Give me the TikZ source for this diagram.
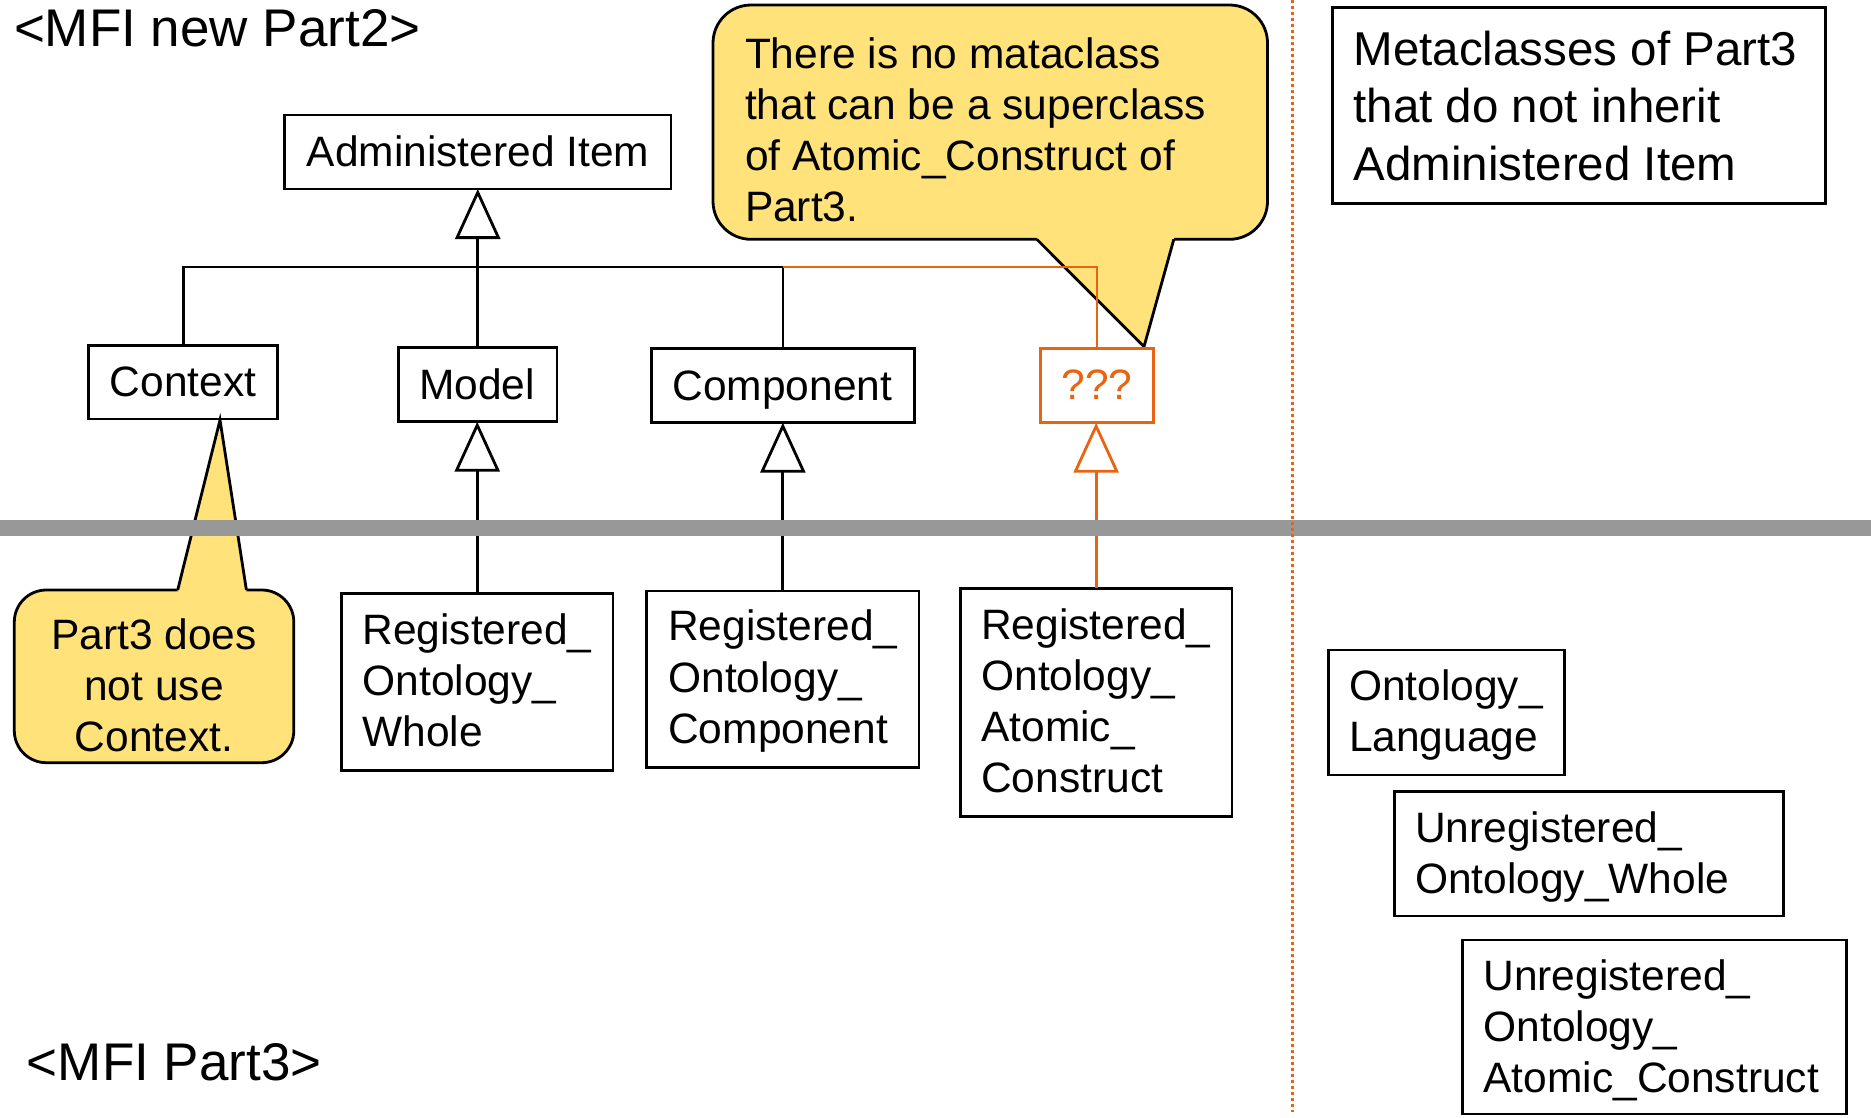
\documentclass[tikz,border=0pt]{standalone}
\usepackage{fontspec}
\setmainfont{Liberation Sans}
\usetikzlibrary{arrows.meta}
\definecolor{orng}{RGB}{232,100,16}
\definecolor{yell}{RGB}{255,227,122}
\definecolor{bandgray}{RGB}{152,152,152}
\begin{document}
\begin{tikzpicture}[x=1pt,y=-1pt,
  box/.style={draw=black, line width=2.9pt, inner sep=0pt, outer sep=0pt, anchor=north west},
  obox/.style={box, draw=orng},
  lbl/.style={inner sep=0pt, outer sep=0pt, anchor=base west, align=left, font=\fontsize{42.5}{51.2}\selectfont},
  clbl/.style={lbl, anchor=base, align=center},
  title/.style={inner sep=0pt, outer sep=0pt, anchor=base west, font=\fontsize{53}{60}\selectfont},
  conn/.style={line width=2.8pt},
  oconn/.style={conn, draw=orng},
  inh/.style={conn, -{Triangle[open, length=50pt, width=45pt]}},
  oinh/.style={inh, draw=orng},
  callout/.style={fill=yell, draw=black, line width=2.8pt},
]
\useasboundingbox (0,0) rectangle (1871,1117);
\fill[white] (0,0) rectangle (1871,1117);

% titles
\node[title] (t1) at (14,46.7) {<MFI new Part2>};
\node[title] (t2) at (27,1080.7) {<MFI Part3>};

% callout (top)  -- multi-line labels are placed by the baseline of their last line
\draw[callout, rounded corners=38pt] (713,5) rectangle (1267.5,239.3);
\fill[yell] (1036.8,235) -- (1036.8,239.3) -- (1144,346.7) -- (1173.8,239.3) -- (1173.8,235) -- cycle;
\draw[line width=2.8pt] (1036.8,239.3) -- (1144,346.7) -- (1173.8,239.3);
\node[lbl] (c1t) at (745,221.7) {There is no mataclass\\that can be a superclass\\of Atomic\_Construct of\\Part3.};

% callout (bottom left)
\draw[callout, rounded corners=32pt] (14.3,590) rectangle (293.8,762.7);
\fill[yell] (177.7,594) -- (177.7,590) -- (220,420) -- (246.4,590) -- (246.4,594) -- cycle;
\draw[line width=2.8pt] (177.7,590) -- (220,420) -- (246.4,590);
\node[clbl] (c2t) at (154,751.7) {Part3 does\\not use\\Context.};

% upper boxes
\node[box, minimum width=386.5pt, minimum height=74pt] (ai) at (284.5,115) {};
\node[clbl] (ait) at (478,166.7) {Administered Item};
\node[box, minimum width=188.7pt, minimum height=73.5pt] (ctx) at (88.8,345.5) {};
\node[clbl] (ctxt) at (183,396) {Context};
\node[box, minimum width=158.3pt, minimum height=74.4pt] (mod) at (398.7,347.3) {};
\node[clbl] (modt) at (477,399.3) {Model};
\node[box, minimum width=262.6pt, minimum height=74.4pt] (comp) at (651.7,348.3) {};
\node[clbl] (compt) at (782.5,400) {Component};
\node[obox, minimum width=112.9pt, minimum height=74.4pt] (q) at (1040.6,348.3) {};
\node[clbl, text=orng] (qt) at (1097,399.3) {???};

% right-hand boxes
\node[box, minimum width=492.6pt, minimum height=196pt] (meta) at (1332.8,7.3) {};
\node[lbl, font=\fontsize{47.5}{57.5}\selectfont] (metat) at (1353.5,180) {Metaclasses of Part3\\that do not inherit\\Administered Item};
\node[box, minimum width=236.4pt, minimum height=125pt] (ol) at (1328.2,650) {};
\node[lbl] (olt) at (1349,751.7) {Ontology\_\\Language};
\node[box, minimum width=389pt, minimum height=124.3pt] (uow) at (1394.2,791.7) {};
\node[lbl] (uowt) at (1415,893.3) {Unregistered\_\\Ontology\_Whole};
\node[box, minimum width=383.7pt, minimum height=174pt] (uoac) at (1462.8,940) {};
\node[lbl] (uoact) at (1483.5,1092.7) {Unregistered\_\\Ontology\_\\Atomic\_Construct};

% lower boxes
\node[box, minimum width=271.5pt, minimum height=177.4pt] (row) at (341.5,593.3) {};
\node[lbl] (rowt) at (362.5,746.7) {Registered\_\\Ontology\_\\Whole};
\node[box, minimum width=272.3pt, minimum height=176.3pt] (roc) at (646.7,591) {};
\node[lbl] (roct) at (668.3,743.3) {Registered\_\\Ontology\_\\Component};
\node[box, minimum width=271.8pt, minimum height=228.4pt] (rac) at (960.2,588.3) {};
\node[lbl] (ract) at (981.3,792.7) {Registered\_\\Ontology\_\\Atomic\_\\Construct};

% upper inheritance tree
\coordinate (bus) at (477.75,267);
\draw[inh] (bus) -- (ai.south);
\draw[conn] (ctx.north) |- (comp.north |- bus) -- (comp.north);
\draw[conn] (mod.north) -- (mod.north |- bus);
\draw[oconn] (comp.north |- bus) -| (q.north);

% lower inheritance
\draw[inh] (row.north) -- (row.north |- mod.south);
\draw[inh] (roc.north) -- (roc.north |- comp.south);
\draw[oinh] (rac.north) -- (rac.north |- q.south);

% separators
\fill[bandgray] (0,520) rectangle (1871,536);
\draw[orng, line width=3pt, dash pattern=on 3pt off 3pt] (1292,0) -- (1292,1112);
\end{tikzpicture}
\end{document}
